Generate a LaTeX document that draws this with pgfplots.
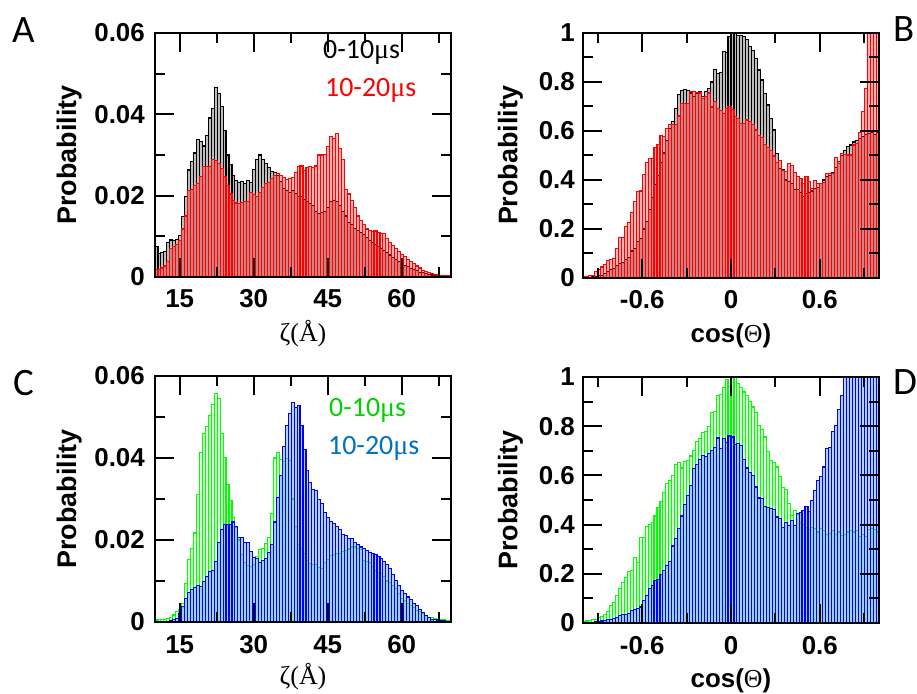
\documentclass[border=0pt]{standalone}
\usepackage{fontspec}
\setmainfont{Liberation Sans}
\newfontfamily\serfont{Liberation Serif}
\newfontfamily\legfont{Carlito}
\usepackage{pgfplots}
\usepackage{pgfplotstable}
\pgfplotsset{compat=1.18}

\definecolor{hgray}{RGB}{190,190,190}
\definecolor{hgreen}{RGB}{0,255,0}
\definecolor{hblue}{RGB}{0,0,255}
\definecolor{hbluefill}{RGB}{60,140,230}
\definecolor{legblue}{RGB}{0,112,192}
\definecolor{leggreen}{RGB}{0,210,0}

% zeta distribution, 0-10 us (a) and 10-20 us (b), bins of 0.6 A
\pgfplotstableread{
x a b
10.0 0.0075 0.0019
10.6 0.0057 0.0019
11.2 0.0061 0.0022
11.8 0.0063 0.0027
12.4 0.0084 0.0038
13.0 0.0091 0.0071
13.6 0.0090 0.0075
14.2 0.0092 0.0080
14.8 0.0103 0.0090
15.4 0.0148 0.0118
16.0 0.0197 0.0150
16.6 0.0263 0.0212
17.2 0.0283 0.0216
17.8 0.0305 0.0224
18.4 0.0337 0.0230
19.0 0.0333 0.0248
19.6 0.0322 0.0271
20.2 0.0349 0.0271
20.8 0.0391 0.0272
21.4 0.0415 0.0289
22.0 0.0466 0.0287
22.6 0.0452 0.0280
23.2 0.0420 0.0267
23.8 0.0360 0.0247
24.4 0.0300 0.0225
25.0 0.0276 0.0204
25.6 0.0250 0.0188
26.2 0.0237 0.0182
26.8 0.0232 0.0180
27.4 0.0235 0.0183
28.0 0.0230 0.0186
28.6 0.0238 0.0185
29.2 0.0233 0.0207
29.8 0.0265 0.0203
30.4 0.0290 0.0197
31.0 0.0300 0.0208
31.6 0.0290 0.0220
32.2 0.0280 0.0229
32.8 0.0270 0.0233
33.4 0.0260 0.0243
34.0 0.0256 0.0250
34.6 0.0250 0.0255
35.2 0.0235 0.0250
35.8 0.0218 0.0244
36.4 0.0212 0.0240
37.0 0.0208 0.0242
37.6 0.0212 0.0245
38.2 0.0206 0.0258
38.8 0.0197 0.0271
39.4 0.0197 0.0273
40.0 0.0190 0.0262
40.6 0.0185 0.0270
41.2 0.0180 0.0272
41.8 0.0175 0.0270
42.4 0.0162 0.0273
43.0 0.0157 0.0300
43.6 0.0158 0.0300
44.2 0.0160 0.0302
44.8 0.0170 0.0320
45.4 0.0185 0.0345
46.0 0.0189 0.0340
46.6 0.0186 0.0352
47.2 0.0175 0.0316
47.8 0.0162 0.0288
48.4 0.0150 0.0215
49.0 0.0135 0.0204
49.6 0.0128 0.0187
50.2 0.0120 0.0170
50.8 0.0115 0.0150
51.4 0.0110 0.0138
52.0 0.0104 0.0128
52.6 0.0097 0.0118
53.2 0.0090 0.0114
53.8 0.0084 0.0112
54.4 0.0080 0.0113
55.0 0.0075 0.0110
55.6 0.0070 0.0108
56.2 0.0066 0.0106
56.8 0.0060 0.0095
57.4 0.0054 0.0085
58.0 0.0048 0.0078
58.6 0.0043 0.0070
59.2 0.0038 0.0062
59.8 0.0033 0.0055
60.4 0.0029 0.0050
61.0 0.0025 0.0044
61.6 0.0021 0.0038
62.2 0.0018 0.0033
62.8 0.0015 0.0027
63.4 0.0012 0.0022
64.0 0.0010 0.0017
64.6 0.0008 0.0013
65.2 0.0006 0.0010
65.8 0.0005 0.0008
66.4 0.0004 0.0006
67.0 0.0003 0.0005
67.6 0.0002 0.0004
68.2 0.0002 0.0004
68.8 0.0001 0.0003
69.4 0.0001 0.0003
70.0 0.0001 0.0003
}\tabA

% cos(Theta), bins of 0.02
\pgfplotstableread{
x a b
-1.00 0.000 0.004
-0.98 0.000 0.006
-0.96 0.002 0.010
-0.94 0.004 0.012
-0.92 0.006 0.028
-0.90 0.010 0.035
-0.88 0.012 0.045
-0.86 0.020 0.055
-0.84 0.025 0.070
-0.82 0.035 0.075
-0.80 0.040 0.081
-0.78 0.050 0.120
-0.76 0.060 0.165
-0.74 0.065 0.165
-0.72 0.075 0.210
-0.70 0.085 0.226
-0.68 0.110 0.266
-0.66 0.120 0.311
-0.64 0.150 0.352
-0.62 0.160 0.355
-0.60 0.200 0.424
-0.58 0.230 0.471
-0.56 0.280 0.488
-0.54 0.330 0.488
-0.52 0.380 0.533
-0.50 0.420 0.545
-0.48 0.470 0.580
-0.46 0.510 0.577
-0.44 0.560 0.611
-0.42 0.610 0.628
-0.40 0.640 0.628
-0.38 0.690 0.625
-0.36 0.750 0.661
-0.34 0.765 0.713
-0.32 0.770 0.713
-0.30 0.765 0.713
-0.28 0.755 0.761
-0.26 0.740 0.761
-0.24 0.755 0.758
-0.22 0.760 0.755
-0.20 0.740 0.733
-0.18 0.760 0.740
-0.16 0.775 0.755
-0.14 0.800 0.698
-0.12 0.850 0.720
-0.10 0.835 0.690
-0.08 0.840 0.685
-0.06 0.925 0.672
-0.04 0.920 0.690
-0.02 0.985 0.699
0.00 1.000 0.686
0.02 0.998 0.660
0.04 0.990 0.650
0.06 0.990 0.631
0.08 0.985 0.631
0.10 0.975 0.645
0.12 0.944 0.640
0.14 0.930 0.625
0.16 0.897 0.604
0.18 0.849 0.580
0.20 0.808 0.574
0.22 0.754 0.545
0.24 0.706 0.533
0.26 0.652 0.520
0.28 0.604 0.498
0.30 0.509 0.471
0.32 0.447 0.479
0.34 0.441 0.440
0.36 0.400 0.434
0.38 0.395 0.467
0.40 0.387 0.460
0.42 0.360 0.430
0.44 0.360 0.416
0.46 0.350 0.407
0.48 0.332 0.387
0.50 0.345 0.414
0.52 0.350 0.393
0.54 0.355 0.366
0.56 0.366 0.397
0.58 0.370 0.384
0.60 0.387 0.387
0.62 0.400 0.390
0.64 0.414 0.427
0.66 0.420 0.427
0.68 0.430 0.428
0.70 0.450 0.491
0.72 0.475 0.467
0.74 0.500 0.509
0.76 0.520 0.505
0.78 0.536 0.502
0.80 0.543 0.502
0.82 0.555 0.543
0.84 0.563 0.550
0.86 0.570 0.593
0.88 0.577 0.679
0.90 0.584 0.774
0.92 0.590 1.050
0.94 0.593 1.050
0.96 0.585 1.050
0.98 0.595 1.050
1.00 0.595 1.050
}\tabB

\pgfplotstableread{
x a b
10.0 0.0005 0.0001
10.6 0.0006 0.0001
11.2 0.0006 0.0001
11.8 0.0007 0.0002
12.4 0.0008 0.0002
13.0 0.0010 0.0004
13.6 0.0017 0.0006
14.2 0.0025 0.0008
14.8 0.0030 0.0020
15.4 0.0045 0.0037
16.0 0.0095 0.0057
16.6 0.0153 0.0072
17.2 0.0180 0.0080
17.8 0.0217 0.0085
18.4 0.0311 0.0090
19.0 0.0413 0.0086
19.6 0.0460 0.0098
20.2 0.0477 0.0112
20.8 0.0504 0.0124
21.4 0.0530 0.0126
22.0 0.0557 0.0148
22.6 0.0546 0.0195
23.2 0.0460 0.0226
23.8 0.0402 0.0237
24.4 0.0335 0.0238
25.0 0.0297 0.0237
25.6 0.0255 0.0244
26.2 0.0230 0.0232
26.8 0.0200 0.0207
27.4 0.0165 0.0206
28.0 0.0146 0.0195
28.6 0.0138 0.0195
29.2 0.0136 0.0171
29.8 0.0140 0.0158
30.4 0.0160 0.0154
31.0 0.0176 0.0146
31.6 0.0180 0.0150
32.2 0.0191 0.0154
32.8 0.0207 0.0170
33.4 0.0264 0.0188
34.0 0.0400 0.0244
34.6 0.0414 0.0303
35.2 0.0397 0.0358
35.8 0.0392 0.0427
36.4 0.0398 0.0480
37.0 0.0395 0.0508
37.6 0.0300 0.0535
38.2 0.0232 0.0524
38.8 0.0190 0.0527
39.4 0.0180 0.0480
40.0 0.0167 0.0420
40.6 0.0150 0.0370
41.2 0.0142 0.0340
41.8 0.0140 0.0323
42.4 0.0140 0.0320
43.0 0.0132 0.0299
43.6 0.0130 0.0289
44.2 0.0145 0.0267
44.8 0.0152 0.0255
45.4 0.0162 0.0246
46.0 0.0164 0.0240
46.6 0.0166 0.0233
47.2 0.0166 0.0225
47.8 0.0172 0.0213
48.4 0.0175 0.0210
49.0 0.0178 0.0203
49.6 0.0183 0.0203
50.2 0.0183 0.0195
50.8 0.0180 0.0190
51.4 0.0176 0.0183
52.0 0.0150 0.0180
52.6 0.0148 0.0175
53.2 0.0146 0.0169
53.8 0.0135 0.0167
54.4 0.0125 0.0165
55.0 0.0120 0.0160
55.6 0.0118 0.0154
56.2 0.0110 0.0148
56.8 0.0100 0.0140
57.4 0.0097 0.0130
58.0 0.0088 0.0115
58.6 0.0081 0.0101
59.2 0.0070 0.0088
59.8 0.0057 0.0077
60.4 0.0052 0.0069
61.0 0.0045 0.0061
61.6 0.0041 0.0055
62.2 0.0035 0.0045
62.8 0.0029 0.0040
63.4 0.0025 0.0031
64.0 0.0020 0.0023
64.6 0.0016 0.0015
65.2 0.0012 0.0010
65.8 0.0010 0.0007
66.4 0.0008 0.0006
67.0 0.0007 0.0005
67.6 0.0006 0.0004
68.2 0.0005 0.0003
68.8 0.0004 0.0002
69.4 0.0003 0.0002
70.0 0.0003 0.0002
}\tabC

\pgfplotstableread{
x a b
-1.00 0.004 0.000
-0.98 0.008 0.000
-0.96 0.011 0.000
-0.94 0.013 0.002
-0.92 0.015 0.004
-0.90 0.024 0.006
-0.88 0.028 0.008
-0.86 0.035 0.011
-0.84 0.047 0.015
-0.82 0.072 0.013
-0.80 0.085 0.018
-0.78 0.110 0.024
-0.76 0.139 0.031
-0.74 0.165 0.033
-0.72 0.185 0.033
-0.70 0.210 0.038
-0.68 0.214 0.050
-0.66 0.265 0.055
-0.64 0.245 0.058
-0.62 0.346 0.065
-0.60 0.346 0.092
-0.58 0.394 0.112
-0.56 0.400 0.139
-0.54 0.408 0.152
-0.52 0.435 0.173
-0.50 0.468 0.177
-0.48 0.495 0.196
-0.46 0.529 0.215
-0.44 0.566 0.234
-0.42 0.580 0.250
-0.40 0.600 0.313
-0.38 0.644 0.343
-0.36 0.654 0.383
-0.34 0.630 0.435
-0.32 0.657 0.481
-0.30 0.660 0.520
-0.28 0.679 0.559
-0.26 0.700 0.627
-0.24 0.738 0.644
-0.22 0.749 0.665
-0.20 0.773 0.681
-0.18 0.779 0.675
-0.16 0.800 0.688
-0.14 0.855 0.700
-0.12 0.860 0.715
-0.10 0.925 0.752
-0.08 0.928 0.708
-0.06 0.959 0.749
-0.04 0.990 0.733
-0.02 0.960 0.760
0.00 1.020 0.756
0.02 1.000 0.725
0.04 0.973 0.729
0.06 0.959 0.720
0.08 0.939 0.665
0.10 0.925 0.630
0.12 0.900 0.610
0.14 0.878 0.600
0.16 0.855 0.553
0.18 0.803 0.508
0.20 0.787 0.507
0.22 0.756 0.473
0.24 0.698 0.468
0.26 0.660 0.465
0.28 0.652 0.460
0.30 0.634 0.431
0.32 0.597 0.424
0.34 0.549 0.390
0.36 0.543 0.408
0.38 0.485 0.397
0.40 0.438 0.418
0.42 0.458 0.395
0.44 0.440 0.445
0.46 0.410 0.448
0.48 0.400 0.458
0.50 0.390 0.473
0.52 0.380 0.455
0.54 0.390 0.499
0.56 0.385 0.540
0.58 0.370 0.581
0.60 0.385 0.594
0.62 0.375 0.634
0.64 0.360 0.709
0.66 0.365 0.715
0.68 0.375 0.780
0.70 0.360 0.803
0.72 0.370 0.868
0.74 0.355 0.925
0.76 0.360 1.050
0.78 0.370 1.050
0.80 0.375 1.050
0.82 0.370 1.050
0.84 0.375 1.050
0.86 0.350 1.050
0.88 0.360 1.050
0.90 0.350 1.050
0.92 0.380 1.050
0.94 0.385 1.050
0.96 0.380 1.050
0.98 0.370 1.050
1.00 0.370 1.050
}\tabD

\pgfplotsset{
  panel/.style={
    scale only axis, width=296bp, anchor=south west,
    axis on top, clip=true,
    scaled ticks=false,
    axis line style={line width=1.8bp},
    tick align=inside, xtick pos=both, ytick pos=both,
    major tick length=19bp, minor tick length=10bp,
    every tick/.style={line width=2bp, draw=black},
    ymin=0,
    tick label style={font=\bfseries\fontsize{26}{26}\selectfont},
    yticklabel style={anchor=east, inner sep=0pt, xshift=-10bp},
    xticklabel style={anchor=base, inner sep=0pt, yshift=-31bp},
    ylabel={Probability},
    every axis y label/.style={rotate=90, anchor=center,
      font=\bfseries\fontsize{27}{27}\selectfont},
    every axis x label/.style={anchor=center,
      font=\fontsize{26}{26}\selectfont},
  },
  zetapanel/.style={panel,
    xmin=10, xmax=70, ymax=0.06,
    xtick={15,30,45,60}, xticklabels={15,30,45,60},
    minor xtick={22.5,37.5,52.5,67.5},
    ytick={0,0.02,0.04,0.06}, yticklabels={0,0.02,0.04,0.06},
    minor ytick={0.01,0.03,0.05},
    xlabel={\serfont ζ(Å)},
    ylabel style={at={(axis description cs:-0.29,0.5)}},
  },
  cospanel/.style={panel,
    xmin=-1, xmax=1, ymax=1,
    xtick={-0.6,0,0.6}, xticklabels={-0.6,0,0.6},
    minor xtick={-0.9,-0.3,0.3,0.9},
    ytick={0,0.2,0.4,0.6,0.8,1}, yticklabels={0,0.2,0.4,0.6,0.8,1},
    minor ytick={0.1,0.3,0.5,0.7,0.9},
    yticklabel style={xshift=2bp},
    xlabel={\bfseries cos({\serfont\mdseries Θ})},
    ylabel style={at={(axis description cs:-0.245,0.5)}},
    xlabel style={at={(axis description cs:0.5,-0.234)}},
  },
  hist/.style={ybar interval, line width=1.1bp},
}

\begin{document}
\begin{tikzpicture}
\useasboundingbox (0,0) rectangle (917bp,694bp);

% A
\begin{axis}[zetapanel, at={(155bp,417bp)}, height=244bp,
    xlabel style={at={(axis description cs:0.5,-0.234)}}]
  \addplot[hist, draw=black, fill=hgray] table[x=x, y=a] {\tabA};
  \addplot[hist, draw=red, fill=red, fill opacity=0.3] table[x=x, y=b] {\tabA};
\end{axis}

% B
\begin{axis}[cospanel, at={(583bp,416bp)}, height=245bp]
  \addplot[hist, draw=black, fill=hgray] table[x=x, y=a] {\tabB};
  \addplot[hist, draw=red, fill=red, fill opacity=0.3] table[x=x, y=b] {\tabB};
\end{axis}

% C
\begin{axis}[zetapanel, at={(155bp,72bp)}, height=246bp,
    xlabel style={at={(axis description cs:0.5,-0.222)}}]
  \addplot[hist, draw=hgreen, fill=hgreen, fill opacity=0.15] table[x=x, y=a] {\tabC};
  \addplot[hist, draw=hblue, fill=hbluefill, fill opacity=0.4] table[x=x, y=b] {\tabC};
\end{axis}

% D
\begin{axis}[cospanel, at={(583bp,71bp)}, height=246bp]
  \addplot[hist, draw=hgreen, fill=hgreen, fill opacity=0.15] table[x=x, y=a] {\tabD};
  \addplot[hist, draw=hblue, fill=hbluefill, fill opacity=0.4] table[x=x, y=b] {\tabD};
\end{axis}

% panel letters
\begin{scope}[every node/.style={anchor=base west, inner sep=0pt,
    font=\legfont\fontsize{39}{39}\selectfont}]
  \node at (12bp,651bp) {A};
  \node at (893bp,652bp) {B};
  \node at (13bp,298bp) {C};
  \node at (893bp,299bp) {D};
\end{scope}

% series labels
\begin{scope}[every node/.style={anchor=base west, inner sep=0pt,
    font=\legfont\fontsize{28}{28}\selectfont}]
  \node[text=black] at (323bp,635bp) {0-10{\serfont μ}s};
  \node[text=red] at (325bp,597bp) {10-20{\serfont μ}s};
  \node[text=leggreen] at (329bp,277bp) {0-10{\serfont μ}s};
  \node[text=legblue] at (328bp,239bp) {10-20{\serfont μ}s};
\end{scope}
\end{tikzpicture}
\end{document}
